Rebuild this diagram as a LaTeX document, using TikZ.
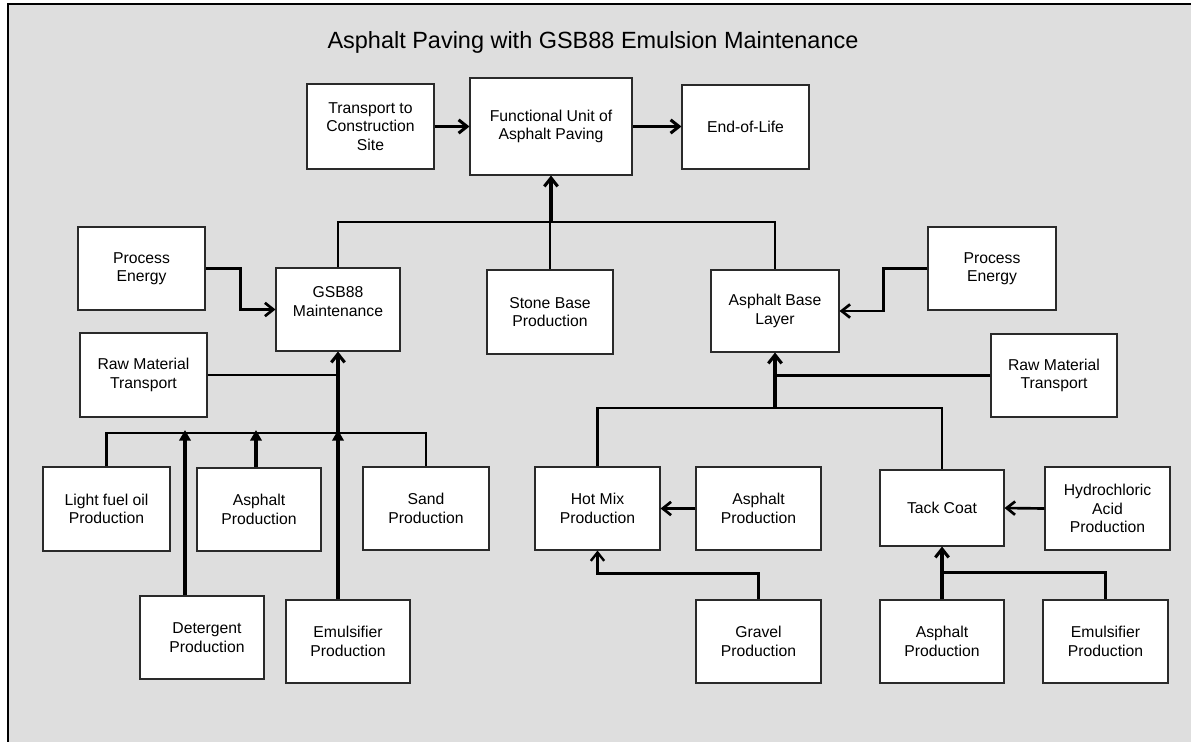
\documentclass[tikz,border=0pt]{standalone}
\usepackage{fontspec}
\setmainfont{Liberation Sans}
\usetikzlibrary{arrows.meta,calc}
\definecolor{bg}{HTML}{DEDEDE}
\definecolor{edge}{HTML}{2A2A2A}
\newdimen\upx \upx=0.75pt
\newcommand\boxfont{\fontsize{11.8}{13.9}\selectfont}
\begin{document}
\begin{tikzpicture}[x=0.75pt,y=-0.75pt,
  box/.style={draw=edge, line width=0.8pt, fill=white, align=center, inner sep=0pt, font=\boxfont, text=black},
  boxs/.style 2 args={box, minimum width=#1\upx, minimum height=#2\upx},
  lbl/.style={align=center, font=\boxfont, inner sep=0pt},
  ln/.style={line width=2pt, line join=miter, draw=black},
  thinln/.style={line width=1pt, draw=black},
  thk/.style={line width=3.6pt, draw=black},
  arr/.style={ln, -{Straight Barb[length=6.3pt,width=10pt]}},
  tri/.style={thk, -{Triangle[length=8pt,width=8.5pt]}, shorten >=-3\upx},
]
\useasboundingbox (0,0) rectangle (1191,742);
\fill[bg] (8,4) rectangle (1191,742);
\draw[line width=1.1pt] (1191,4) -- (8,4) -- (8,742);

\node[font=\fontsize{17.6}{20}\selectfont] (title) at (593,42) {Asphalt Paving with GSB88 Emulsion Maintenance};

% top row
\node[boxs={127}{85}] (tr) at (370.5,126.5) {Transport to\\Construction\\Site};
\node[boxs={162}{97}] (fu) at (551,126.5) {Functional Unit of\\Asphalt Paving};
\node[boxs={127}{84}] (eol) at (745.5,127) {End-of-Life};

% second row
\node[boxs={127}{83}] (pel) at (141.5,268.5) {Process\\Energy};
\node[boxs={124}{83}, label={[lbl, yshift=6pt]center:{GSB88\\Maintenance}}] (gsb) at (338,309.5) {};
\node[boxs={126}{84}] (stone) at (550,312) {Stone Base\\Production};
\node[boxs={128}{82}] (abl) at (775,311) {Asphalt Base\\Layer};
\node[boxs={128}{83}] (per) at (992,268.5) {Process\\Energy};

\node[boxs={127}{84}] (rmtl) at (143.5,375) {Raw Material\\Transport};
\node[boxs={126}{83}] (rmtr) at (1054,375.5) {Raw Material\\Transport};

% left lower group
\node[boxs={127}{84}] (lfo) at (106.5,509) {Light fuel oil\\Production};
\node[boxs={124}{83}] (aspl) at (259,509.5) {Asphalt\\Production};
\node[boxs={126}{83}] (sand) at (426,508.5) {Sand\\Production};
\node[boxs={124}{83}, label={[lbl, xshift=3.75pt]center:{Detergent\\Production}}] (det) at (202,637.5) {};
\node[boxs={124}{83}] (emul) at (348,641.5) {Emulsifier\\Production};

% right lower group
\node[boxs={125}{83}] (hot) at (597.5,508.5) {Hot Mix\\Production};
\node[boxs={125}{83}] (aspm) at (758.5,508.5) {Asphalt\\Production};
\node[boxs={125}{83}] (grav) at (758.5,641.5) {Gravel\\Production};
\node[boxs={124}{76}] (tack) at (942,508) {Tack Coat};
\node[boxs={125}{83}] (hcl) at (1107.5,508.5) {Hydrochloric\\Acid\\Production};
\node[boxs={124}{83}] (aspr) at (942,641.5) {Asphalt\\Production};
\node[boxs={125}{83}] (emur) at (1105.5,641.5) {Emulsifier\\Production};

% top connectors
\draw[arr, line width=2.3pt] (tr.east) -- (fu.west);
\draw[arr, line width=2.3pt] (fu.east) -- (eol.west |- fu.east);
\coordinate (topbus) at (551,222);
\draw[ln] (gsb.north) |- (topbus) -| (abl.north);
\draw[ln] (stone.north) -- (stone.north |- topbus);
\draw[arr, line width=2.3pt] (fu.south |- topbus) -- (fu.south);

% process energy
\draw[arr] (pel.east) -- ++(35,0) |- (gsb.west);
\draw[arr] (per.west) -- ++(-44,0) |- (abl.east);

% left tree
\draw[thinln] (rmtl.east) -- (rmtl.east -| gsb.south);
\coordinate (lbus) at (338,433);
\coordinate (dtop) at ($(det.north)+(-17,0)$);
\coordinate (atop) at ($(aspl.north)+(-3,0)$);
\draw[ln] (lfo.north) |- (lbus) -| (sand.north);
\draw[arr, line width=2.3pt] (lbus) -- (gsb.south);
\draw[tri] (dtop) -- (dtop |- lbus);
\draw[tri] (atop) -- (atop |- lbus);
\draw[tri] (emul.north -| lbus) -- (lbus);

% right tree
\coordinate (rbus) at (775,408);
\draw[ln, line width=2.3pt] (rmtr.west) -- (rmtr.west -| abl.south);
\draw[arr, line width=2.3pt] (rbus) -- (abl.south);
\draw[ln] (hot.north) |- (rbus) -| (tack.north);
\draw[arr] (aspm.west) -- (hot.east);
\draw[arr, line width=1.8pt] (grav.north) -- ++(0,-26) -| (hot.south);
\draw[arr] (hcl.west) -- (tack.east);
\draw[arr, line width=2.3pt] (aspr.north) -- (tack.south);
\draw[ln] (emur.north) |- ($(aspr.north)+(0,-27)$);
\end{tikzpicture}
\end{document}
